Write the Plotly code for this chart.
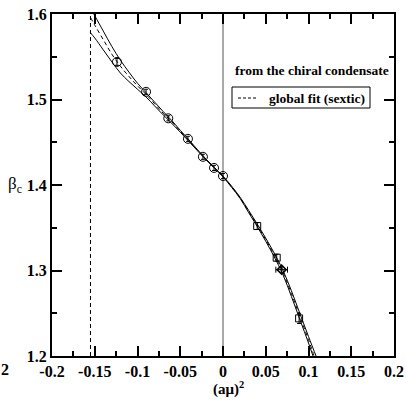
import plotly.graph_objects as go

# ---- data ----
circle_x = [-0.124, -0.090, -0.064, -0.041, -0.0235, -0.0105, 0.0]
circle_y = [1.544, 1.509, 1.478, 1.454, 1.433, 1.420, 1.4105]
circle_err = [0.004, 0.003, 0.003, 0.003, 0.003, 0.003, 0.003]

square_x = [0.040, 0.0628, 0.089]
square_y = [1.352, 1.315, 1.244]
square_err = [0.004, 0.004, 0.006]

diam_x = [0.0686]
diam_y = [1.301]
diam_xerr = [0.0068]
diam_yerr = [0.003]

fit_x = [-0.155, -0.15, -0.14, -0.13, -0.12, -0.11, -0.10, -0.09, -0.08, -0.07,
         -0.06, -0.05, -0.04, -0.03, -0.02, -0.01, 0.0, 0.01, 0.02, 0.03,
         0.04, 0.05, 0.06, 0.07, 0.08, 0.09, 0.10, 0.11]
fit_center = [1.596, 1.587, 1.570, 1.553, 1.539, 1.527, 1.516, 1.506, 1.495, 1.484,
              1.474, 1.463, 1.452, 1.441, 1.430, 1.420, 1.410, 1.398, 1.385, 1.369,
              1.353, 1.336, 1.318, 1.298, 1.273, 1.246, 1.219, 1.190]
fit_upper = [1.607, 1.598, 1.580, 1.562, 1.546, 1.532, 1.519, 1.508, 1.497, 1.486,
             1.4755, 1.464, 1.453, 1.4415, 1.4305, 1.4204, 1.4105, 1.3987, 1.3857, 1.3703,
             1.3545, 1.3378, 1.3202, 1.3006, 1.2763, 1.2495, 1.2228, 1.197]
fit_lower = [1.578, 1.572, 1.558, 1.544, 1.531, 1.521, 1.512, 1.503, 1.4925, 1.482,
             1.4722, 1.4618, 1.451, 1.4402, 1.4295, 1.4196, 1.4095, 1.3973, 1.3843, 1.3677,
             1.3515, 1.3342, 1.3158, 1.2954, 1.2697, 1.2425, 1.2152, 1.186]

x_crit = -0.155

x_ticks = [-0.2, -0.15, -0.1, -0.05, 0, 0.05, 0.1, 0.15, 0.2]
x_labels = ["-0.2", "-0.15", "-0.1", "-0.05", "0", "0.05", "0.1", "0.15", "0.2"]
y_ticks = [1.2, 1.3, 1.4, 1.5, 1.6]
y_labels = ["1.2", "1.3", "1.4", "1.5", "1.6"]

FONT = "Liberation Serif"

# plot-area pixel geometry (for legend placement)
L, R, T, B = 52, 394, 14, 356
def px(p):
    return (p - L) / (R - L)
def py(p):
    return (B - p) / (B - T)

fig = go.Figure()

fig.add_trace(go.Scatter(x=fit_x, y=fit_upper, mode="lines", line=dict(color="black", width=1, shape="spline"),
                         showlegend=False, hoverinfo="skip"))
fig.add_trace(go.Scatter(x=fit_x, y=fit_lower, mode="lines", line=dict(color="black", width=1, shape="spline"),
                         showlegend=False, hoverinfo="skip"))
fig.add_trace(go.Scatter(x=fit_x, y=fit_center, mode="lines",
                         line=dict(color="black", width=1, dash="4px,3px", shape="spline"),
                         name="global fit (sextic)", showlegend=False))

fig.add_trace(go.Scatter(x=circle_x, y=circle_y, mode="markers",
                         marker=dict(symbol="circle-open", size=9, color="black", line=dict(width=1)),
                         error_y=dict(type="data", array=circle_err, color="black", thickness=1, width=2),
                         showlegend=False))
fig.add_trace(go.Scatter(x=square_x, y=square_y, mode="markers",
                         marker=dict(symbol="square-open", size=7, color="black", line=dict(width=1)),
                         error_y=dict(type="data", array=square_err, color="black", thickness=1, width=2),
                         showlegend=False))
fig.add_trace(go.Scatter(x=diam_x, y=diam_y, mode="markers",
                         marker=dict(symbol="diamond-open", size=7, color="black", line=dict(width=1.5)),
                         error_x=dict(type="data", array=diam_xerr, color="black", thickness=1, width=3),
                         error_y=dict(type="data", array=diam_yerr, color="black", thickness=1, width=2),
                         showlegend=False))

bold_font = dict(family=FONT, size=16, color="black", weight="bold")

axis_common = dict(
    showline=True, linecolor="black", linewidth=2, mirror="allticks",
    ticks="inside", ticklen=10, tickwidth=1.5, tickcolor="black",
    showgrid=False, zeroline=False, automargin=False,
    tickfont=bold_font,
)

fig.update_xaxes(range=[-0.2, 0.2], tickvals=x_ticks, ticktext=["<b>%s</b>" % t for t in x_labels],
                 minor=dict(ticks="inside", ticklen=5, dtick=0.025, tickwidth=1.5, tickcolor="black"),
                 **axis_common)
fig.update_yaxes(range=[1.2, 1.6], tickvals=y_ticks, ticktext=["<b>%s</b>" % t for t in y_labels],
                 minor=dict(ticks="inside", ticklen=5, dtick=0.05, tickwidth=1.5, tickcolor="black"),
                 **axis_common)

def ann(text, x, y, size, xanchor="center", **kw):
    return dict(text=text, xref="paper", yref="paper", x=px(x), y=py(y),
                xanchor=xanchor, yanchor="middle", showarrow=False,
                font=dict(family=FONT, size=size, color="black"), **kw)

annotations = [
    ann("<b>(aμ)<sup>2</sup></b>", 228, 388, 15),
    ann("β<sub>c</sub>", 6, 185, 17, xanchor="left"),
    ann("<b>from the chiral condensate</b>", 311.5, 70, 13.5, bgcolor="white", borderpad=1),
    ann("<b>global fit (sextic)</b>", 267, 98, 13.5, xanchor="left"),
    ann("<b>2</b>", 5, 369, 16),
]

shapes = [
    dict(type="line", xref="x", yref="paper", x0=x_crit, x1=x_crit, y0=0, y1=1,
         line=dict(color="black", width=1, dash="4px,3px"), layer="above"),
    dict(type="line", xref="x", yref="paper", x0=0, x1=0, y0=0, y1=1,
         line=dict(color="#555555", width=1), layer="below"),
    dict(type="rect", xref="paper", yref="paper", x0=px(232), x1=px(370), y0=py(108), y1=py(87),
         line=dict(color="black", width=1), fillcolor="white", layer="above"),
    dict(type="line", xref="paper", yref="paper", x0=px(238), x1=px(257), y0=py(98), y1=py(98),
         line=dict(color="black", width=1, dash="3px,2px"), layer="above"),
]

fig.update_layout(
    width=406, height=400,
    margin=dict(l=L, r=406 - R, t=T, b=400 - B),
    paper_bgcolor="white", plot_bgcolor="white",
    font=dict(family=FONT, color="black"),
    annotations=annotations, shapes=shapes,
    showlegend=False,
)

fig.write_html("out.html")
